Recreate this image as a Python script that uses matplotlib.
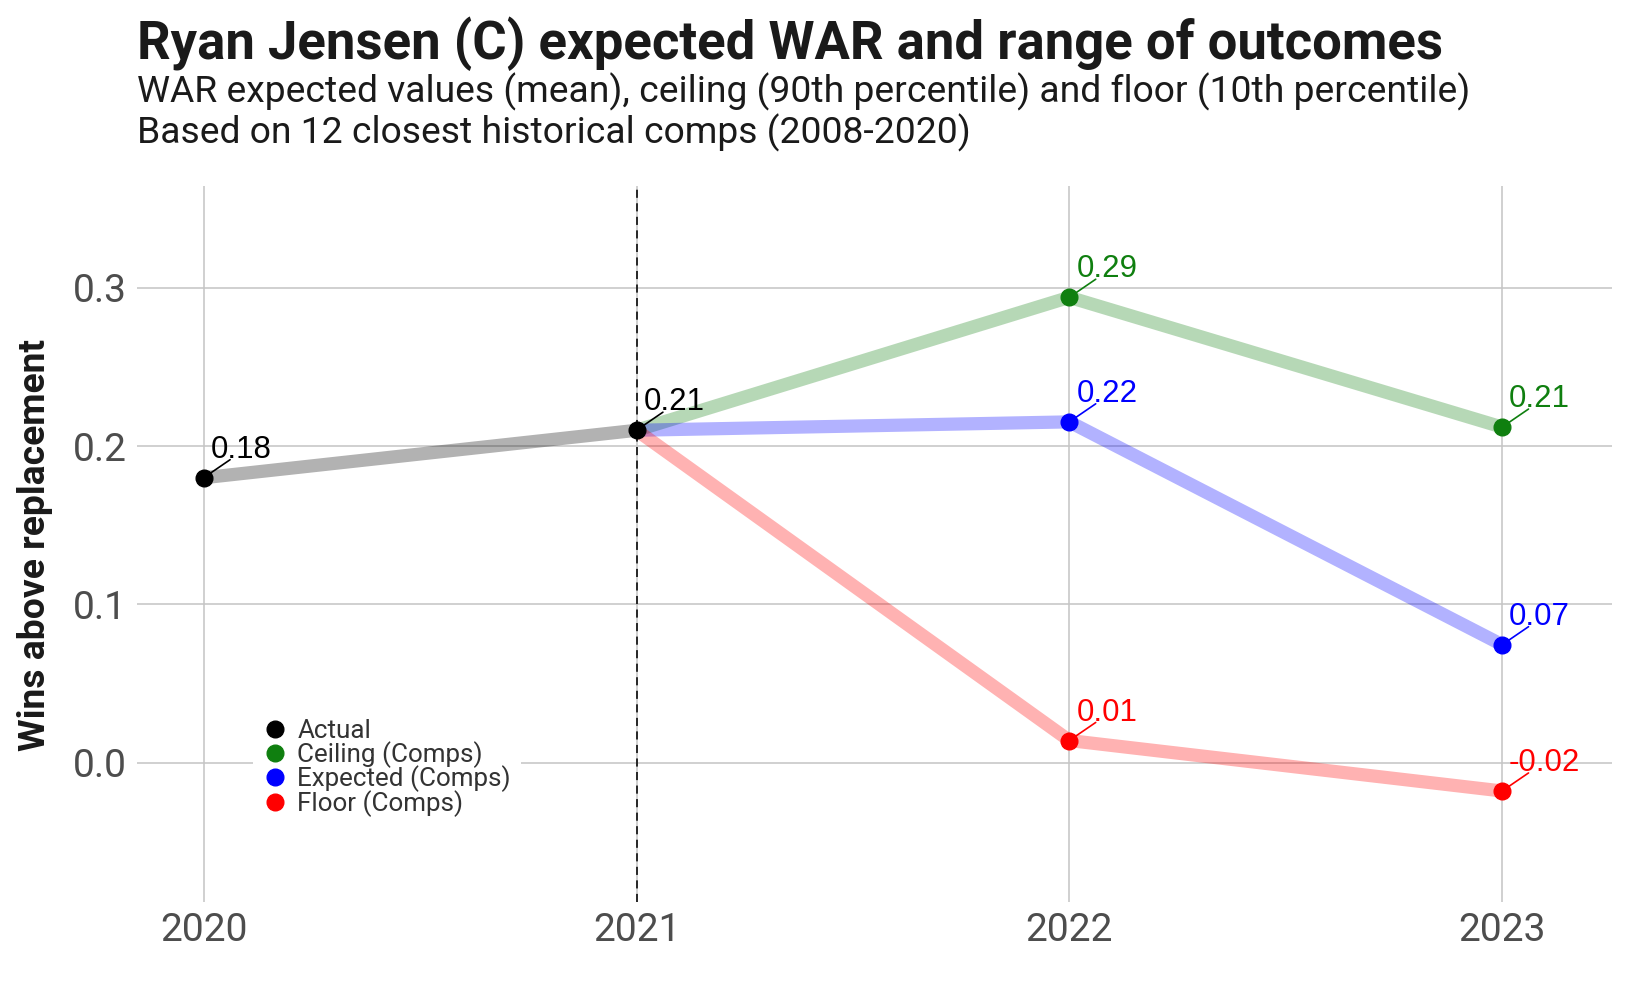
import matplotlib
matplotlib.use("Agg")
import matplotlib.pyplot as plt
from matplotlib.lines import Line2D

# ---- data ----
actual_years = [2020, 2021]
actual_war = [0.180, 0.210]

comp_years = [2021, 2022, 2023]
ceiling_war = [0.210, 0.294, 0.212]
expected_war = [0.210, 0.2153, 0.0745]
floor_war = [0.210, 0.014, -0.0179]

year_ticks = [2020, 2021, 2022, 2023]
war_ticks = [0.0, 0.1, 0.2, 0.3]

TITLE = "Ryan Jensen (C) expected WAR and range of outcomes"
SUBTITLE_1 = "WAR expected values (mean), ceiling (90th percentile) and floor (10th percentile)"
SUBTITLE_2 = "Based on 12 closest historical comps (2008-2020)"

GREEN = "#0f7f0f"
BLUE = "#0000ff"
RED = "#ff0000"

plt.rcParams["font.family"] = ["Roboto", "DejaVu Sans"]

fig = plt.figure(figsize=(16.5, 9.9), dpi=100)
ax = fig.add_axes([0.0828, 0.0886, 0.8942, 0.7235])

# thick translucent paths
ax.plot(actual_years, actual_war, color="black", alpha=0.3, lw=9.5,
        solid_capstyle="butt", zorder=2)
series = [
    (ceiling_war, GREEN),
    (expected_war, BLUE),
    (floor_war, RED),
]
for vals, col in series:
    ax.plot(comp_years, vals, color=col, alpha=0.3, lw=9.5,
            solid_capstyle="butt", zorder=2)

# points
for vals, col in series:
    ax.plot(comp_years[1:], vals[1:], "o", color=col, ms=12, zorder=4)
ax.plot(actual_years, actual_war, "o", color="black", ms=12, zorder=5)

# vertical marker at the last actual season
ax.axvline(2021, color="#1a1a1a", lw=1.3, ls=(0, (4.5, 3)), zorder=3)


def label_point(x, y, col):
    ax.annotate("", xy=(x, y), xytext=(19, 13), textcoords="offset points",
                arrowprops=dict(arrowstyle="-", color=col, lw=1.2,
                                shrinkA=0, shrinkB=0), zorder=3)
    ax.annotate(f"{y:.2f}", xy=(x, y), xytext=(5, 14.4),
                textcoords="offset points", ha="left", va="baseline",
                color=col, fontsize=22.5, family=["Liberation Sans"], zorder=6)


for x, y in zip(actual_years, actual_war):
    label_point(x, y, "black")
for vals, col in series:
    for x, y in zip(comp_years[1:], vals[1:]):
        label_point(x, y, col)

# axes styling
ax.set_xlim(2020 - 0.155, 2023 + 0.254)
ax.set_ylim(-0.0882, 0.3643)
ax.set_xticks(year_ticks)
ax.set_xticklabels([str(y) for y in year_ticks])
ax.set_yticks(war_ticks)
ax.set_yticklabels([f"{v:.1f}" for v in war_ticks])
ax.grid(True, color="#c4c4c4", lw=1.1, zorder=0)
ax.set_axisbelow(True)
for s in ax.spines.values():
    s.set_visible(False)
ax.tick_params(length=0, labelsize=28, labelcolor="#4d4d4d")
ax.tick_params(axis="y", pad=7)
ax.tick_params(axis="x", pad=7)

# legend
handles = [
    Line2D([], [], marker="o", ls="", color="black", ms=12),
    Line2D([], [], marker="o", ls="", color=GREEN, ms=12),
    Line2D([], [], marker="o", ls="", color=BLUE, ms=12),
    Line2D([], [], marker="o", ls="", color=RED, ms=12),
]
labels = ["Actual", "Ceiling (Comps)", "Expected (Comps)", "Floor (Comps)"]
leg = ax.legend(handles, labels, loc="upper left",
                bbox_to_anchor=(0.079, 0.27), frameon=True, fancybox=False,
                facecolor="white", edgecolor="none", framealpha=1,
                fontsize=18.7, labelspacing=-0.09, handlelength=0.9,
                handletextpad=0.4, borderpad=0.4, borderaxespad=0)
for t in leg.get_texts():
    t.set_color("#333333")
leg.set_zorder(7)

# titles
fig.text(0.083, 1 - 59 / 990, TITLE, fontsize=37.9, fontweight="bold",
         color="#1a1a1a", ha="left", va="baseline")
fig.text(0.083, 1 - 102 / 990, SUBTITLE_1, fontsize=26.8,
         color="#1a1a1a", ha="left", va="baseline")
fig.text(0.083, 1 - 143 / 990, SUBTITLE_2, fontsize=26.8,
         color="#1a1a1a", ha="left", va="baseline")
fig.text(35 / 1650, 1 - 544.6 / 990, "Wins above replacement", rotation=90,
         fontsize=26.8, fontweight="bold", color="#1a1a1a",
         ha="center", va="center")

fig.savefig("out.png", dpi=100, facecolor="white")
